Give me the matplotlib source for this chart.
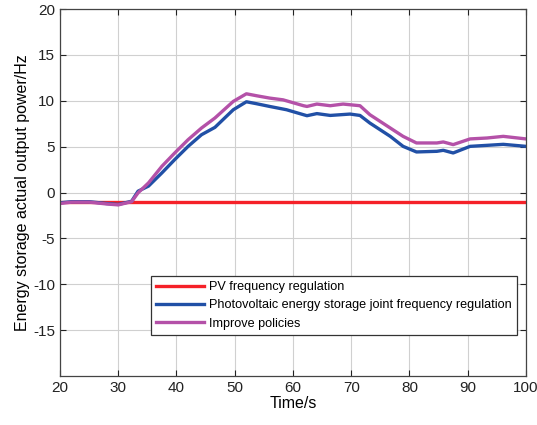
import numpy as np
import matplotlib.pyplot as plt

plt.rcParams['font.family'] = ['Liberation Sans', 'DejaVu Sans']
plt.rcParams['axes.unicode_minus'] = False

# time points (s)
t_blue = [20, 22, 25, 28, 30, 32.3, 33.4, 35.2, 37.5, 39.7, 42.0, 44.3, 46.6, 49.75,
          52.0, 53.8, 56.0, 58.9, 61.8, 62.4, 64.1, 66.4, 69.8, 71.5, 73.2, 76.7,
          78.9, 81.2, 84.7, 85.8, 87.5, 90.4, 93.3, 96.1, 100]
blue = [-1.12, -1.0, -1.0, -1.2, -1.3, -0.95, 0.14, 0.7, 2.14, 3.59, 5.03, 6.3, 7.1, 9.02,
        9.89, 9.67, 9.38, 9.02, 8.48, 8.37, 8.6, 8.4, 8.55, 8.4, 7.57, 6.12,
        5.03, 4.42, 4.49, 4.6, 4.31, 5.03, 5.14, 5.25, 5.03]

t_mag = [20, 22, 25, 28, 30, 32.3, 33.4, 35.2, 37.5, 39.7, 42.0, 44.3, 46.6, 49.75,
         52.0, 53.8, 56.0, 58.3, 61.8, 62.4, 64.1, 66.4, 68.6, 71.5, 73.2, 76.7,
         78.9, 81.2, 84.7, 85.8, 87.5, 90.4, 93.3, 96.1, 100]
magenta = [-1.2, -1.05, -1.05, -1.25, -1.35, -1.0, -0.04, 1.05, 2.86, 4.31, 5.76, 7.03, 8.12, 9.93,
           10.76, 10.54, 10.29, 10.1, 9.46, 9.38, 9.64, 9.46, 9.64, 9.46, 8.48, 7.03,
           6.12, 5.4, 5.4, 5.51, 5.22, 5.84, 5.94, 6.12, 5.84]

t_red = [20, 100]
red = [-1.0, -1.0]

labels = ['PV frequency regulation',
          'Photovoltaic energy storage joint frequency regulation',
          'Improve policies']

fig = plt.figure(figsize=(5.37, 4.25), dpi=100)
ax = fig.add_axes([0.1117, 0.1153, 0.8678, 0.8635])

ax.plot(t_red, red, color='#f52128', lw=2.4, label=labels[0])
ax.plot(t_blue, blue, color='#2150a6', lw=2.4, label=labels[1])
ax.plot(t_mag, magenta, color='#b451a8', lw=2.4, label=labels[2])

ax.set_xlim(20, 100)
ax.set_ylim(-20, 20)
ax.set_xticks(np.arange(20, 101, 10))
ax.set_yticks(np.arange(-15, 21, 5))
ax.grid(True, color='#d0d0d0', lw=0.8)
ax.tick_params(direction='in', top=True, right=True, labelsize=11, colors='#222222', length=4)
for s in ax.spines.values():
    s.set_color('#444444')
    s.set_linewidth(0.9)

ax.set_xlabel('Time/s', fontsize=11.5, labelpad=1)
ax.set_ylabel('Energy storage actual output power/Hz', fontsize=11.5, labelpad=2)

leg = ax.legend(loc='upper left', bbox_to_anchor=(0.195, 0.2725), borderaxespad=0,
                fontsize=9.1, handlelength=3.8, labelspacing=0.5, borderpad=0.4,
                handletextpad=0.4, fancybox=False, framealpha=1)
leg.get_frame().set_edgecolor('#333333')
leg.get_frame().set_linewidth(0.9)

fig.savefig('out.png', dpi=100)
